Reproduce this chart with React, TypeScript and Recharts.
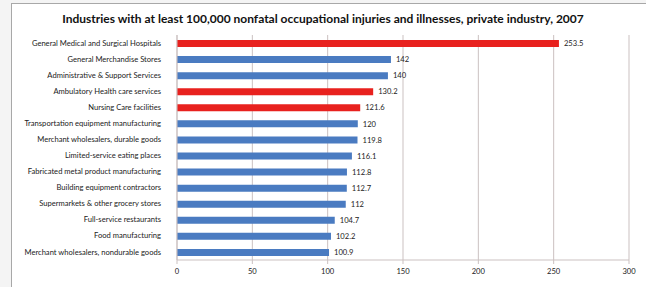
import { BarChart, Bar, XAxis, YAxis, CartesianGrid, Cell, LabelList } from 'recharts';

const industries = [
  'General Medical and Surgical Hospitals',
  'General Merchandise Stores',
  'Administrative & Support Services',
  'Ambulatory Health care services',
  'Nursing Care facilities',
  'Transportation equipment manufacturing',
  'Merchant wholesalers, durable goods',
  'Limited-service eating places',
  'Fabricated metal product manufacturing',
  'Building equipment contractors',
  'Supermarkets & other grocery stores',
  'Full-service restaurants',
  'Food manufacturing',
  'Merchant wholesalers, nondurable goods',
];

// thousands of cases
const cases = [253.5, 142, 140, 130.2, 121.6, 120, 119.8, 116.1, 112.8, 112.7, 112, 104.7, 102.2, 100.9];

const healthcare = [true, false, false, true, true, false, false, false, false, false, false, false, false, false];

const xTicks = [0, 50, 100, 150, 200, 250, 300];

const RED = '#e8211e';
const BLUE = '#4a7bc1';
const GRID = '#cbc1c1';
const FONT = 'Lato, "Open Sans", sans-serif';

const data = industries.map((name, i) => ({ name, value: cases[i], hc: healthcare[i] }));

function CategoryTick({ x, y, payload }: any) {
  return (
    <text x={x} y={y} dy={2.6} textAnchor="end" fontSize={7.6} fill="#222" fontFamily={FONT}>
      {payload.value}
    </text>
  );
}

export default function App() {
  return (
    <div style={{ position: 'absolute', left: 0, top: 0, width: 646, height: 287, background: '#f4f4f4', overflow: 'hidden' }}>
      <div
        style={{
          position: 'absolute',
          left: 11,
          top: 3,
          width: 660,
          height: 300,
          background: '#fff',
          borderLeft: '1px solid #a8a8a8',
          borderTop: '1px solid #a8a8a8',
        }}
      />
      <div
        style={{
          position: 'absolute',
          left: 0,
          top: 11,
          width: 646,
          textAlign: 'center',
          fontFamily: FONT,
          fontWeight: 700,
          fontSize: 12,
          color: '#111',
        }}
      >
        Industries with at least 100,000 nonfatal occupational injuries and illnesses, private industry, 2007
      </div>
      <div style={{ position: 'absolute', left: 0, top: 0 }}>
        <BarChart
          width={646}
          height={287}
          data={data}
          layout="vertical"
          margin={{ top: 35, right: 17, bottom: 0, left: 0 }}
        >
          <CartesianGrid horizontal={false} stroke={GRID} strokeWidth={1} />
          <XAxis
            type="number"
            domain={[0, 300]}
            ticks={xTicks}
            height={27}
            stroke={GRID}
            tickSize={4}
            tickMargin={5}
            tick={{ fontSize: 7.6, fill: '#222', fontFamily: FONT }}
            interval={0}
          />
          <YAxis
            type="category"
            dataKey="name"
            width={177}
            stroke={GRID}
            tickLine={false}
            tickMargin={10}
            interval={0}
            tick={<CategoryTick />}
          />
          <Bar dataKey="value" barSize={7} isAnimationActive={false}>
            {data.map((d, i) => (
              <Cell key={i} fill={d.hc ? RED : BLUE} />
            ))}
            <LabelList
              dataKey="value"
              position="right"
              offset={5}
              style={{ fontSize: 7.6, fill: '#222', fontFamily: FONT }}
            />
          </Bar>
        </BarChart>
      </div>
    </div>
  );
}
